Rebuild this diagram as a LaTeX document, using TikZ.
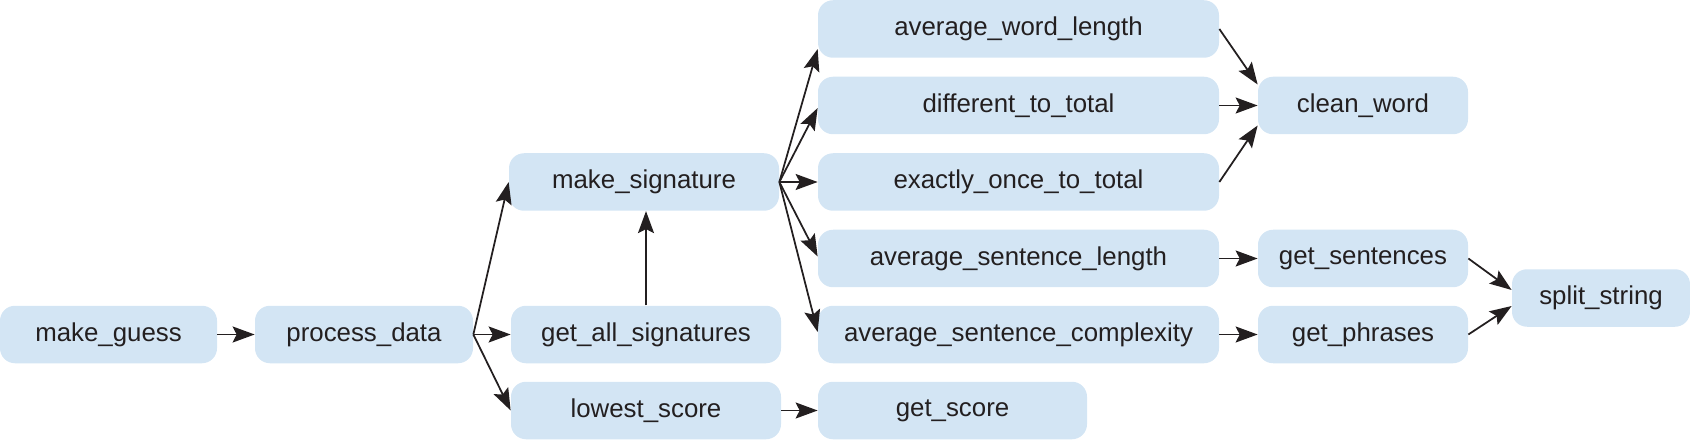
\documentclass[tikz,border=0pt]{standalone}
\usepackage{fontspec}
\setmainfont{Liberation Sans}
\usetikzlibrary{arrows.meta}
\definecolor{boxblue}{RGB}{211,229,244}
\definecolor{inkgray}{RGB}{35,31,32}
\tikzset{
	fn/.style={rounded corners=0.3cm, fill=boxblue, text=inkgray, minimum height=1.15cm, inner sep=0pt, font=\fontsize{14.7}{17}\selectfont},
	call/.style={-{Stealth[length=0.44cm,width=0.32cm,inset=0.08cm]}, line width=1pt, draw=inkgray}
}

\begin{document}
\begin{tikzpicture}
		\useasboundingbox (0,0) rectangle (33.8,8.8);
		% callers on the left
		\node[fn, minimum width=4.34cm] (guess) at (2.17,2.11) {make\_guess};
		\node[fn, minimum width=4.36cm] (process) at (7.28,2.11) {process\_data};
		\node[fn, minimum width=5.40cm] (sig) at (12.88,5.16) {make\_signature};
		\node[fn, minimum width=5.40cm] (allsig) at (12.92,2.11) {get\_all\_signatures};
		\node[fn, minimum width=5.40cm] (lowest) at (12.92,0.59) {lowest\_score};
		% signature parts
		\node[fn, minimum width=8.02cm] (awl) at (20.37,8.22) {average\_word\_length};
		\node[fn, minimum width=8.02cm] (dtt) at (20.37,6.69) {different\_to\_total};
		\node[fn, minimum width=8.02cm] (eot) at (20.37,5.16) {exactly\_once\_to\_total};
		\node[fn, minimum width=8.02cm] (asl) at (20.37,3.63) {average\_sentence\_length};
		\node[fn, minimum width=8.02cm] (asc) at (20.37,2.11) {average\_sentence\_complexity};
		\node[fn, minimum width=5.38cm] (score) at (19.05,0.59) {get\_score};
		% helpers
		\node[fn, minimum width=4.20cm] (clean) at (27.26,6.69) {clean\_word};
		\node[fn, minimum width=4.20cm] (sent) at (27.26,3.63) {get\_sentences};
		\node[fn, minimum width=4.20cm] (phr) at (27.26,2.11) {get\_phrases};
		\node[fn, minimum width=3.56cm] (split) at (32.02,2.84) {split\_string};

		\draw[call] (guess.east) -- (process.west);
		\foreach \t in {sig,allsig,lowest}{
			\draw[call] (process.east) -- (\t.west);
		}
		\draw[call] (allsig.north) -- (allsig.north |- sig.south);
		\foreach \t/\dy in {awl/-0.4,dtt/-0.05,eot/0,asl/0.04,asc/0.05}{
			\draw[call] (sig.east) -- ([yshift=\dy cm]\t.west);
		}
		\draw[call] (lowest.east) -- (score.west);
		\draw[call] (awl.east) -- ([yshift=0.42cm]clean.west);
		\draw[call] (dtt.east) -- (clean.west);
		\draw[call] (eot.east) -- ([yshift=-0.4cm]clean.west);
		\draw[call] (asl.east) -- (sent.west);
		\draw[call] (asc.east) -- (phr.west);
		\draw[call] (sent.east) -- ([yshift=0.16cm]split.west);
		\draw[call] (phr.east) -- ([yshift=-0.16cm]split.west);

	\end{tikzpicture}
\end{document}
